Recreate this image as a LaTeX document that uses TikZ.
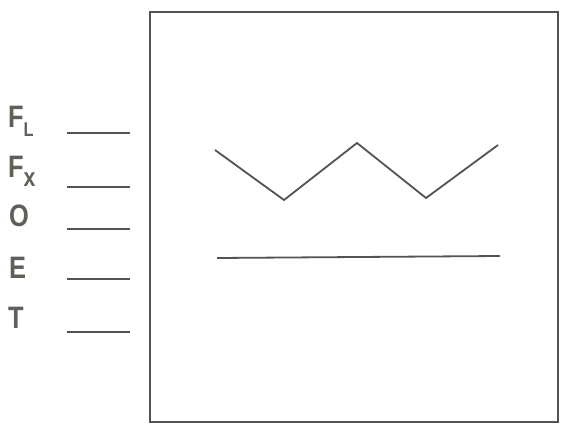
\documentclass[tikz,border=0pt]{standalone}
\usepackage{fontspec}
\setmainfont{Liberation Sans}
\usepackage{tikz}
\definecolor{ink}{HTML}{57524E}
\definecolor{letter}{HTML}{625E58}

\newcommand{\narrow}[1]{\scalebox{0.82}[1]{\bfseries #1}}

\tikzset{
  frame/.style={draw=ink,line width=1.8pt},
  trace/.style={draw=ink,line width=1.8pt,line join=miter},
  tick/.style={draw=ink,line width=1.4pt},
  lab/.style={anchor=base west,inner sep=0pt,text=letter,font=\bfseries\fontsize{31}{31}\selectfont}
}

\begin{document}
\begin{tikzpicture}[x=1pt,y=-1pt]
\useasboundingbox (0,0) rectangle (564,427);
% outer frame
\draw[frame] (150,12) rectangle (558,422);
% traces inside the frame
\draw[trace] (215,150)--(284,200)--(357,143)--(426,198)--(498,145);
\draw[trace] (217,258)--(500,256);
% channel labels
\node[lab] (fl) at (8,128) {\narrow{F\raisebox{-9pt}{\fontsize{20}{20}\selectfont L}}};
\node[lab] (fx) at (8,178) {\narrow{F\raisebox{-9pt}{\fontsize{26}{26}\selectfont x}}};
\node[lab] (o) at (9,227) {\narrow{O}};
\node[lab] (e) at (9,278) {\narrow{E}};
\node[lab] (t) at (8,328) {\narrow{T}};
% short marks
\draw[tick] (67,133)--(130,133);
\draw[tick] (67,187)--(130,187);
\draw[tick] (67,229)--(130,229);
\draw[tick] (67,279)--(130,279);
\draw[tick] (67,332)--(130,332);
\end{tikzpicture}
\end{document}
